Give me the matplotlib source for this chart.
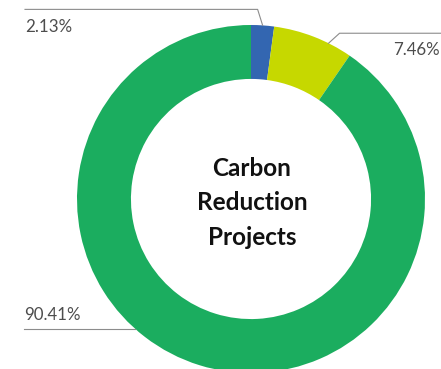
import numpy as np
import matplotlib.pyplot as plt

labels = ['2.13%', '7.46%', '90.41%']
shares = [2.13, 7.46, 90.41]
colors = ['#3366b1', '#c6d800', '#1bad5f']
center_title = 'Carbon\nReduction\nProjects'

W, H = 441, 369
fig = plt.figure(figsize=(W / 100, H / 100), dpi=100)
ax = fig.add_axes([0, 0, 1, 1])

# donut in pixel-like coordinates
cx, cy, R = 251, H - 199, 174
wedges, _ = ax.pie(shares, colors=colors, startangle=90, counterclock=False,
                   radius=R, center=(cx, cy), frame=True,
                   wedgeprops=dict(width=R * 0.31, linewidth=0))
ax.set_xlim(0, W)
ax.set_ylim(0, H)
ax.set_aspect('equal')
ax.axis('off')

ax.text(cx + 1, cy - 4, center_title, ha='center', va='center', fontsize=17.5,
        fontweight='bold', family='Lato', color='#111111', linespacing=1.6)

# leader lines: anchor on outer edge, elbow, then horizontal run
frac = [0.5, 0.3, 0.425]
elbow = [(-5, 16), (11, 10), (0, 0)]
run_x = [25, 441, 24]
text_pos = [(25, H - 27, 'left'), (393, H - 50, 'left'), (24, H - 315, 'left')]
for w, f, (ex, ey), rx, (tx, ty, ha), lab in zip(wedges, frac, elbow, run_x, text_pos, labels):
    a = np.deg2rad(w.theta1 + f * (w.theta2 - w.theta1))
    x0, y0 = cx + R * np.cos(a), cy + R * np.sin(a)
    x1, y1 = x0 + ex, y0 + ey
    ax.plot([x0, x1, rx], [y0, y1, y1], color='#8c8c8c', lw=0.8, clip_on=False)
    ax.text(tx, ty, lab, ha=ha, va='center', fontsize=12.2, family='Lato',
            color='#4d4d4d')

fig.savefig('out.png', dpi=100)
